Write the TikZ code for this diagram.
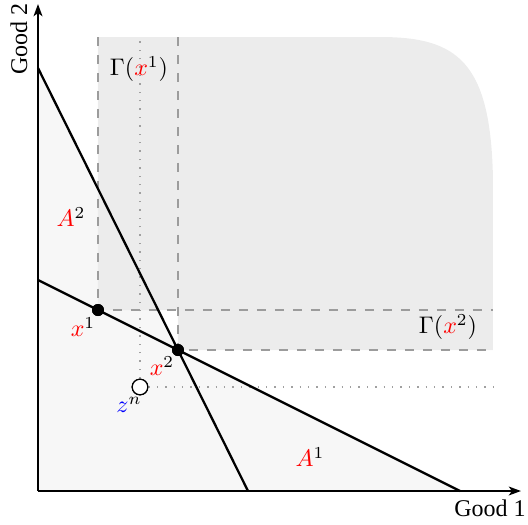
\documentclass[tikz,border=0pt]{standalone}
\usepackage{fontspec}
\setmainfont{Liberation Serif}
\usetikzlibrary{arrows.meta}
\definecolor{regiongray}{HTML}{ECECEC}
\definecolor{lightfill}{HTML}{F7F7F7}
\definecolor{dashgray}{HTML}{9C9C9C}
\definecolor{dotgray}{HTML}{A0A0A0}
\begin{document}
\begin{tikzpicture}[x=0.4167pt,y=-0.4167pt,
  axis/.style={line width=0.95pt,-{Stealth[length=5pt,width=3.6pt,inset=1.2pt]}},
  budget/.style={line width=0.95pt},
  bound/.style={dashgray,line width=1.15pt,dash pattern=on 3.6pt off 3.9pt},
  aux/.style={dotgray,line width=0.6pt,dash pattern=on 0.6pt off 2.9pt},
  dotpt/.style={circle,fill=black,inner sep=0pt,minimum size=5pt},
  openpt/.style={circle,draw=black,fill=white,line width=0.5pt,inner sep=0pt,minimum size=6.5pt},
  lbl/.style={inner sep=1pt}]
\useasboundingbox (0,0) rectangle (528,524);
% coordinates
\coordinate (O) at (38,491);
\coordinate (ytop) at (38,4);
\coordinate (xend) at (521,491);
\coordinate (stTop) at (38,68);
\coordinate (stBot) at (248,491);
\coordinate (shTop) at (38,280);
\coordinate (shBot) at (460,491);
\coordinate (X1) at (98,310);
\coordinate (X2) at (178,350);
% light feasible region
\fill[lightfill] (O) -- (stTop) -- (X2) -- (shBot) -- cycle;
% upper contour region
\fill[regiongray] (98,310) -- (98,37) -- (380,37)
  .. controls (458,37) and (491,62) .. (493,180)
  -- (493,350) -- (178,350) -- (178,310) -- cycle;
% points
\node[dotpt] (x1) at (X1) {};
\node[dotpt] (x2) at (X2) {};
\node[openpt] (zn) at (140,387) {};
\coordinate (znTop) at (140,37);
\coordinate (znRight) at (493,387);
% dotted lines
\draw[aux] (zn.north) -- (znTop);
\draw[aux] (zn.east) -- (znRight);
% dashed boundaries
\coordinate (g1top) at (98,37);
\coordinate (g1right) at (493,310);
\coordinate (g2top) at (178,37);
\coordinate (g2right) at (493,350);
\draw[bound] (g1top) -- (x1.center) -- (g1right);
\draw[bound] (g2top) -- (x2.center) -- (g2right);
% budget lines
\draw[budget] (stTop) -- (stBot);
\draw[budget] (shTop) -- (shBot);
% axes
\draw[axis] (O) -- (ytop);
\draw[axis] (O) -- (xend);
% redraw points on top
\node[dotpt] at (X1) {};
\node[dotpt] at (X2) {};
\node[openpt] at (140,387) {};
% labels
\node[lbl,rotate=90] (good2) at (19,39) {Good 2};
\node[lbl] (good1) at (490,508) {Good 1};
\node[lbl] (gam1) at (139,69) {$\Gamma(\textcolor{red}{x}^1)$};
\node[lbl] (gam2) at (448,327) {$\Gamma(\textcolor{red}{x}^2)$};
\node[lbl] (lx1) at (83,327) {$\textcolor{red}{x}^1$};
\node[lbl] (lx2) at (162,366) {$\textcolor{red}{x}^2$};
\node[lbl] (lzn) at (129,405) {$\textcolor{blue}{z}^n$};
\node[lbl] (la2) at (71,217) {$\textcolor{red}{A}^2$};
\node[lbl] (la1) at (310,457) {$\textcolor{red}{A}^1$};
\end{tikzpicture}
\end{document}
